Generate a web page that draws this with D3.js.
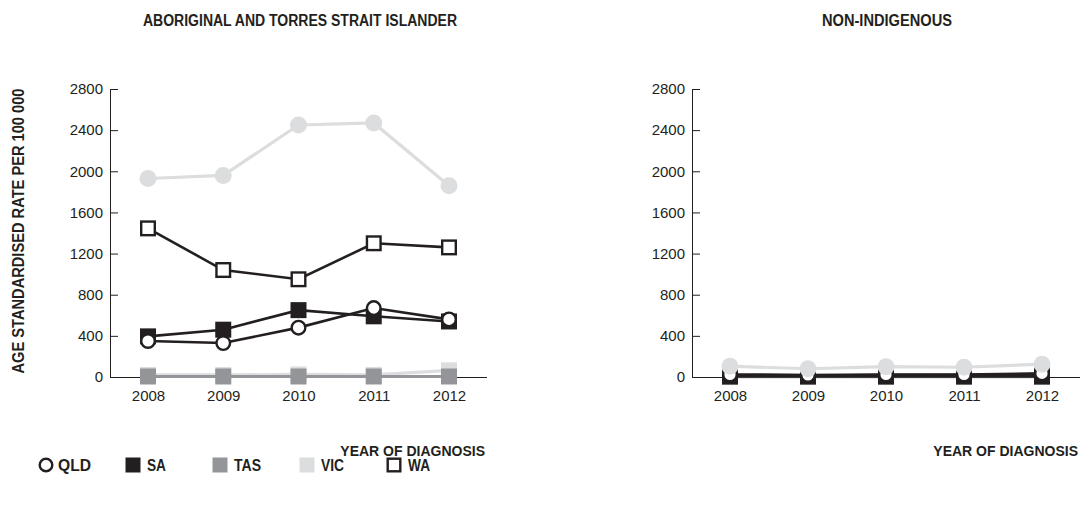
<!DOCTYPE html>
<html>
<head>
<meta charset="utf-8">
<script src="https://cdn.jsdelivr.net/npm/d3@7"></script>
<style>
  body { margin: 0; background: #fff; }
  svg { display: block; }
</style>
</head>
<body>
<svg id="chart" width="1084" height="510"></svg>
<script>
// years and state series (age standardised rate per 100 000)
const years = [2008, 2009, 2010, 2011, 2012];
const yTicks = [0, 400, 800, 1200, 1600, 2000, 2400, 2800];

const legendStates = ["QLD", "SA", "TAS", "VIC", "WA"];

// Aboriginal and Torres Strait Islander
const indigNT  = [1930, 1960, 2450, 2470, 1860];
const indigQLD = [350, 330, 480, 670, 560];
const indigSA  = [395, 460, 650, 590, 540];
const indigTAS = [5, 5, 5, 5, 5];
const indigVIC = [20, 20, 25, 20, 65];
const indigWA  = [1445, 1040, 950, 1300, 1260];

// Non-Indigenous
const nonNT  = [105, 80, 100, 95, 125];
const nonQLD = [25, 20, 25, 25, 35];
const nonSA  = [5, 5, 5, 5, 5];
const nonTAS = [3, 3, 3, 3, 3];
const nonVIC = [15, 15, 15, 15, 15];
const nonWA  = [15, 15, 20, 20, 20];

const style = {
  NT:  { shape: "circle", fill: "#dcddde", stroke: "none", line: "#dcddde" },
  QLD: { shape: "circle", fill: "#ffffff", stroke: "#231f20", line: "#231f20" },
  SA:  { shape: "square", fill: "#231f20", stroke: "none", line: "#231f20" },
  TAS: { shape: "square", fill: "#939598", stroke: "none", line: "#939598" },
  VIC: { shape: "square", fill: "#dcddde", stroke: "none", line: "#dcddde" },
  WA:  { shape: "square", fill: "#ffffff", stroke: "#231f20", line: "#231f20" }
};
// draw order (back to front)
const drawOrder = ["VIC", "TAS", "WA", "SA", "QLD", "NT"];

const panels = [
  { title: "ABORIGINAL AND TORRES STRAIT ISLANDER", titleW: 314, axisX: 110, endX: 487, x0: 148, x1: 449, titleX: 300,
    series: { NT: indigNT, QLD: indigQLD, SA: indigSA, TAS: indigTAS, VIC: indigVIC, WA: indigWA } },
  { title: "NON-INDIGENOUS", titleW: 130, axisX: 692, endX: 1080, x0: 730, x1: 1042, titleX: 887,
    series: { NT: nonNT, QLD: nonQLD, SA: nonSA, TAS: nonTAS, VIC: nonVIC, WA: nonWA } }
];

const svg = d3.select("#chart");
const ink = "#231f20";
const bold = "'Liberation Sans Narrow', 'Liberation Sans', Arial, sans-serif";
const plain = "'Liberation Sans', Arial, sans-serif";

const y = d3.scaleLinear().domain([0, 2800]).range([377, 89]);

function boldText(sel, str, w) {
  return sel.attr("font-family", bold).attr("font-weight", "bold")
    .attr("font-size", 16).attr("fill", ink)
    .attr("textLength", w).attr("lengthAdjust", "spacingAndGlyphs")
    .text(str);
}

function marker(sel, st, size) {
  if (st.shape === "circle") {
    sel.append("circle")
      .attr("r", st.stroke === "none" ? size / 2 + 0.5 : size / 2 - 1.2)
      .attr("fill", st.fill)
      .attr("stroke", st.stroke)
      .attr("stroke-width", 2.4);
  } else {
    const s = st.stroke === "none" ? size : size - 2.4;
    sel.append("rect")
      .attr("x", -s / 2).attr("y", -s / 2)
      .attr("width", s).attr("height", s)
      .attr("fill", st.fill)
      .attr("stroke", st.stroke)
      .attr("stroke-width", 2.4);
  }
}

panels.forEach(p => {
  const x = d3.scalePoint().domain(years).range([p.x0, p.x1]);

  // title
  boldText(svg.append("text")
    .attr("x", p.titleX).attr("y", 26)
    .attr("text-anchor", "middle"), p.title, p.titleW);

  // y axis
  const ya = svg.append("g")
    .attr("transform", `translate(${p.axisX},0)`)
    .call(d3.axisLeft(y).tickValues(yTicks).tickFormat(d3.format("d"))
      .tickSizeInner(-8).tickSizeOuter(0).tickPadding(7));
  ya.select(".domain").attr("stroke", ink);
  ya.selectAll(".tick line").attr("stroke", ink);
  ya.selectAll("text").attr("font-family", plain).attr("font-size", 15).attr("fill", ink);

  // x axis
  svg.append("line")
    .attr("x1", p.axisX).attr("x2", p.endX)
    .attr("y1", y(0) + 0.5).attr("y2", y(0) + 0.5)
    .attr("stroke", ink);
  const xa = svg.append("g")
    .attr("transform", `translate(0,${y(0)})`)
    .call(d3.axisBottom(x).tickSize(0).tickPadding(13));
  xa.select(".domain").remove();
  xa.selectAll("text").attr("font-family", plain).attr("font-size", 15).attr("fill", ink);

  svg.append("text")
    .attr("x", p.endX - 2).attr("y", 456)
    .attr("text-anchor", "end")
    .attr("font-family", bold).attr("font-weight", "bold")
    .attr("font-size", 14).attr("fill", ink)
    .text("YEAR OF DIAGNOSIS");

  const line = d3.line().x((d, i) => x(years[i])).y(d => y(d));

  drawOrder.forEach(k => {
    const st = style[k];
    const vals = p.series[k];
    svg.append("path")
      .datum(vals)
      .attr("d", line)
      .attr("fill", "none")
      .attr("stroke", st.line)
      .attr("stroke-width", st.line === ink ? 2.6 : 3.2);
    svg.append("g").selectAll("g")
      .data(vals)
      .join("g")
      .attr("transform", (d, i) => `translate(${x(years[i])},${y(d)})`)
      .each(function () { marker(d3.select(this), st, 16); });
  });
});

// y axis title
boldText(svg.append("text")
  .attr("transform", "translate(24,231) rotate(-90)")
  .attr("text-anchor", "middle"), "AGE STANDARDISED RATE PER 100 000", 285);

// legend
const legendX = d3.scalePoint().domain(legendStates).range([46, 394]);
const legendW = { QLD: 33, SA: 19, TAS: 27, VIC: 23, WA: 22 };
const lg = svg.append("g").selectAll("g")
  .data(legendStates)
  .join("g")
  .attr("transform", d => `translate(${legendX(d)},465)`);
lg.each(function (d) { marker(d3.select(this), style[d], 15); });
lg.each(function (d) {
  boldText(d3.select(this).append("text")
    .attr("x", style[d].shape === "circle" ? 12 : 14).attr("y", 6), d, legendW[d]);
});
</script>
</body>
</html>
